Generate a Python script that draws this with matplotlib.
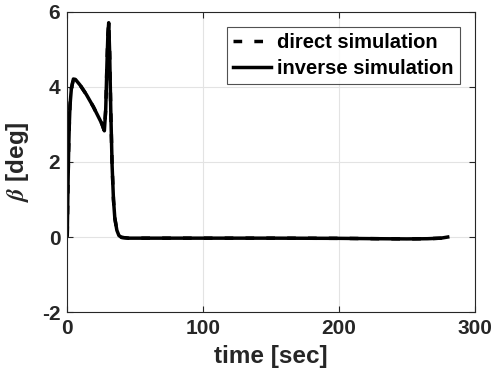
import matplotlib
matplotlib.use('Agg')
import matplotlib.pyplot as plt

# sideslip angle vs time
time = [0, 0.5, 1, 1.5, 2, 3, 4.5, 6, 9.4, 14, 19.2, 25.3, 27.3,
        28.3, 29.2, 29.9, 30.5, 31.2, 32, 33, 34, 35, 36.5, 38, 40, 45,
        60, 100, 150, 200, 230, 250, 265, 275, 280]
beta = [0.05, 1.3, 2.3, 3.0, 3.5, 3.95, 4.21, 4.2, 4.05, 3.8, 3.47, 3.03,
        2.83, 3.4, 4.6, 5.4, 5.71, 4.9, 3.4, 1.9, 1.0,
        0.5, 0.18, 0.04, -0.01, -0.03, -0.03, -0.03, -0.03, -0.035,
        -0.045, -0.05, -0.045, -0.03, 0.0]

xticks = [0, 100, 200, 300]
yticks = [-2, 0, 2, 4, 6]

plt.rcParams.update({
    'font.family': 'Liberation Sans',
    'font.weight': 'bold',
    'mathtext.fontset': 'stix',
    'axes.unicode_minus': False,
})

fig = plt.figure(figsize=(5.02, 3.82), dpi=100)
ax = fig.add_axes([0.134, 0.183, 0.812, 0.786])

ax.plot(time, beta, color='black', lw=2.5, ls='--', dashes=(2.5, 3.5),
        label='direct simulation')
ax.plot(time, beta, color='black', lw=2.5, label='inverse simulation')

ax.set_xlim(0, 300)
ax.set_ylim(-2, 6)
ax.set_xticks(xticks)
ax.set_yticks(yticks)
ax.grid(True, color='#e3e3e3', lw=0.8)
ax.tick_params(direction='in', length=4, labelsize=15, colors='#262626',
               top=True, right=True, labeltop=False, labelright=False, pad=5)
for lab in ax.get_xticklabels() + ax.get_yticklabels():
    lab.set_fontweight('bold')
for sp in ax.spines.values():
    sp.set_color('#262626')
    sp.set_linewidth(0.8)

ax.set_xlabel('time [sec]', fontsize=17.5, fontweight='bold', color='#262626', labelpad=5)
ax.set_ylabel(r'$\mathit{\beta}$ [deg]', fontsize=17.5, fontweight='bold', color='#262626', labelpad=8)

leg = ax.legend(loc='upper right', fontsize=14.5, frameon=True, fancybox=False,
                handlelength=1.9, handletextpad=0.3, borderpad=0.3,
                labelspacing=0.35, borderaxespad=0.75)
leg.get_frame().set_edgecolor('#262626')
leg.get_frame().set_linewidth(0.8)
for txt in leg.get_texts():
    txt.set_fontweight('bold')

fig.savefig('out.png', dpi=100)
